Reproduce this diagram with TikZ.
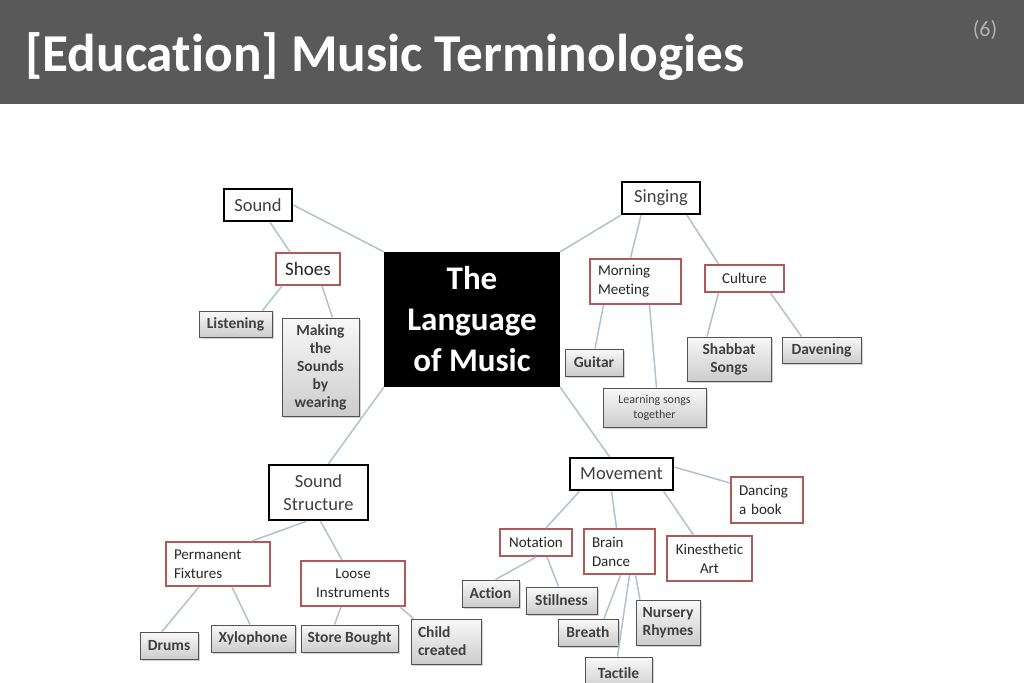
\documentclass[tikz,border=0pt]{standalone}
\usepackage{fontspec}
\setmainfont{Carlito}[Ligatures=NoCommon]
\usetikzlibrary{shadows}
\definecolor{barGray}{RGB}{89,89,89}
\definecolor{boxRed}{RGB}{178,88,90}
\definecolor{linkBlue}{RGB}{176,194,208}
\definecolor{textGray}{RGB}{64,64,64}

\tikzset{
  box/.style 2 args={minimum width=#1, minimum height=#2},
  hub/.style={fill=black, text=white, font=\bfseries\fontsize{33}{41}\selectfont, align=center, inner sep=0pt},
  topic/.style={draw=black, line width=2.5pt, fill=white, text=textGray, font=\fontsize{18.5}{23}\selectfont, align=center, inner sep=0pt},
  sub/.style={draw=boxRed, line width=2pt, fill=white, text=black!85, font=\fontsize{15}{19}\selectfont, align=center, inner sep=0pt},
  lsub/.style={sub, align=left, inner xsep=8pt},
  leaf/.style={draw=gray!65!black, line width=1pt, top color=gray!5, bottom color=gray!40,
    drop shadow={shadow xshift=1.5pt, shadow yshift=-1.5pt, opacity=0.35},
    text=black!75, font=\bfseries\fontsize{15.5}{18}\selectfont, align=center, inner sep=0pt},
  link/.style={draw=linkBlue, line width=1.5pt}
}

\begin{document}
\begin{tikzpicture}[x=1pt,y=-1pt]
\clip (0,0) rectangle (1024,682);
\fill[white] (0,0) rectangle (1024,682);

% title bar
\fill[barGray] (0,0) rectangle (1024,104);
\node[anchor=base west, text=white, font=\bfseries\fontsize{53.3}{60}\selectfont, inner sep=0pt] (title) at (25,72) {[Education] Music Terminologies};
\node[text=gray!60, font=\fontsize{22}{26}\selectfont, inner sep=0pt] (page) at (985,30) {(6)};

% centre
\node[hub, box={176pt}{135pt}] (hub) at (472,319.5) {The\\Language\\of Music};

% sound
\node[topic, box={68pt}{32pt}] (sound) at (258,205) {Sound};
\node[sub, box={64pt}{32pt}, font=\fontsize{19}{23}\selectfont] (shoes) at (308,269) {Shoes};
\node[leaf, box={73pt}{26pt}] (listening) at (235.5,324) {Listening};
\node[leaf, box={77pt}{98pt}] (making) at (320.5,367) {Making\\the\\Sounds\\by\\wearing};

% singing
\node[topic, box={78pt}{32pt}] (singing) at (661,198) {Singing};
\node[lsub, box={91pt}{45pt}, text width=75pt] (morning) at (635.5,281.5) {Morning\\Meeting};
\node[sub, box={79pt}{27pt}] (culture) at (744.5,278.5) {Culture};
\node[leaf, box={58pt}{27pt}] (guitar) at (594,362.5) {Guitar};
\node[leaf, box={103pt}{39pt}, font=\fontsize{12}{15}\selectfont] (learning) at (654.5,407.5) {Learning songs\\together};
\node[leaf, box={84pt}{44pt}] (shabbat) at (729,359) {Shabbat\\Songs};
\node[leaf, box={79pt}{26pt}] (davening) at (821.5,350) {Davening};

% sound structure
\node[topic, box={99pt}{55pt}] (structure) at (318.5,492.5) {Sound\\Structure};
\node[lsub, box={104pt}{44pt}, text width=88pt] (fixtures) at (218,564) {Permanent\\Fixtures};
\node[sub, box={104pt}{45pt}] (loose) at (353,583.5) {Loose\\Instruments};
\node[leaf, box={58pt}{27pt}] (drums) at (169,645.5) {Drums};
\node[leaf, box={84pt}{27pt}] (xylophone) at (253,638.5) {Xylophone};
\node[leaf, box={97pt}{27pt}] (bought) at (349.5,638.5) {Store Bought};
\node[leaf, box={70pt}{45pt}, align=left, inner xsep=7pt, text width=56pt] (child) at (446,641.5) {Child\\created};

% movement
\node[topic, box={103pt}{32pt}] (movement) at (621.5,474) {Movement};
\node[lsub, box={72pt}{46pt}, text width=56pt] (dancing) at (767,500) {Dancing\\a book};
\node[sub, box={72pt}{27pt}] (notation) at (536,542.5) {Notation};
\node[lsub, box={71pt}{45pt}, text width=55pt] (brain) at (619.5,551.5) {Brain\\Dance};
\node[sub, box={85pt}{45pt}] (kinesthetic) at (709.5,558.5) {Kinesthetic\\Art};
\node[leaf, box={57pt}{27pt}] (action) at (490.5,593.5) {Action};
\node[leaf, box={71pt}{27pt}] (stillness) at (561.5,600.5) {Stillness};
\node[leaf, box={60pt}{27pt}] (breath) at (588,632.5) {Breath};
\node[leaf, box={64pt}{45pt}] (nursery) at (668,622.5) {Nursery\\Rhymes};
\node[leaf, box={67pt}{33pt}] (tactile) at (618.5,673.5) {Tactile};

% links
\draw[link] (sound.east) -- (hub.north west);
\draw[link] ([xshift=12pt]sound.south) -- ([xshift=-18pt]shoes.north);
\draw[link] ([xshift=-26pt]shoes.south) -- ([xshift=27pt]listening.north);
\draw[link] ([xshift=14pt]shoes.south) -- ([xshift=12pt]making.north);
\draw[link] (hub.south west) -- ([xshift=10pt]structure.north);
\draw[link] (hub.north east) -- (singing.south west);
\draw[link] (hub.south east) -- ([xshift=-12pt]movement.north);
\draw[link] ([xshift=-20pt]singing.south) -- ([xshift=-5pt]morning.north);
\draw[link] ([xshift=26pt]singing.south) -- ([xshift=-26pt]culture.north);
\draw[link] ([xshift=-32pt]morning.south) -- ([xshift=1pt]guitar.north);
\draw[link] ([xshift=14pt]morning.south) -- ([xshift=2pt]learning.north);
\draw[link] ([xshift=-26pt]culture.south) -- ([xshift=-22pt]shabbat.north);
\draw[link] ([xshift=26pt]culture.south) -- ([xshift=-20pt]davening.north);
\draw[link] ([xshift=-12pt]structure.south) -- ([xshift=34pt]fixtures.north);
\draw[link] ([xshift=2pt]structure.south) -- ([xshift=-11pt]loose.north);
\draw[link] ([xshift=-19pt]fixtures.south) -- ([xshift=-7pt]drums.north);
\draw[link] ([xshift=14pt]fixtures.south) -- ([xshift=-3pt]xylophone.north);
\draw[link] ([xshift=-12pt]loose.south) -- ([xshift=-15pt]bought.north);
\draw[link] ([xshift=-6pt]loose.south east) -- ([xshift=3pt]child.north west);
\draw[link] ([xshift=-42pt]movement.south) -- ([xshift=10pt]notation.north);
\draw[link] ([xshift=-10pt]movement.south) -- ([xshift=-3pt]brain.north);
\draw[link] ([xshift=42pt]movement.south) -- ([xshift=-16pt]kinesthetic.north);
\draw[link] ([yshift=7pt]movement.east) -- ([yshift=17pt]dancing.west);
\draw[link] (notation.south) -- ([xshift=5pt]action.north);
\draw[link] ([xshift=11pt]notation.south) -- ([xshift=-3pt]stillness.north);
\draw[link] ([xshift=1pt]brain.south) -- ([xshift=16pt]breath.north);
\draw[link] ([xshift=10pt]brain.south) -- ([xshift=-1pt]tactile.north);
\draw[link] ([xshift=16pt]brain.south) -- ([xshift=-28pt]nursery.north);
\end{tikzpicture}
\end{document}
